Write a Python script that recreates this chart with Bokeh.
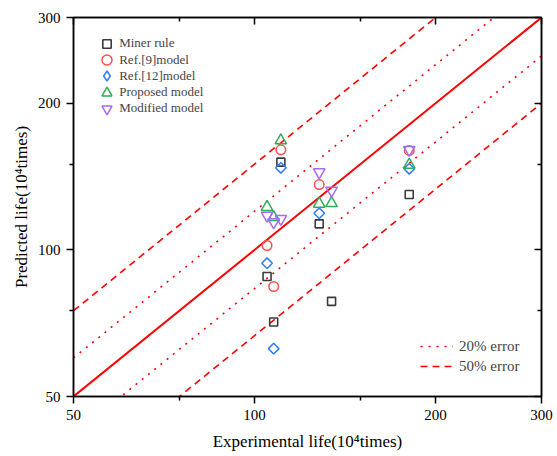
import math
from bokeh.plotting import figure
from bokeh.models import (FixedTicker, PrintfTickFormatter, LogAxis, Legend, LegendItem,
                          CustomJSTickFormatter, Range1d)
from bokeh.embed import file_html
from bokeh.resources import INLINE

NAN = float("nan")
# Experimental life (10^4 times)
exp_life = [104.9, 107.6, 110.6, 128.1, 134.3, 180.8]
# Predicted life per model
miner_rule = [88.2, 71.1, 151.4, 113.1, 78.4, 129.9]
ref9_model = [102.1, 84.1, 160.5, 136.2, NAN, 160.0]
ref12_model = [93.9, 62.7, 147.4, 118.9, NAN, 146.7]
proposed_model = [122.4, 116.7, 167.7, 124.3, 124.7, 149.5]
modified_model = [117.6, 114.0, 115.8, 144.4, 132.4, 160.5]

ref_x = [50, 300]
err_factors = {"solid": 1.0, "20": 1.2, "50": 1.5}

major_ticks = [50, 100, 200, 300]
minor_ticks = [75, 150]

FONT = "Liberation Serif"

p = figure(width=557, height=456, x_axis_type="log", y_axis_type="log",
           x_range=Range1d(50, 300), y_range=Range1d(50, 300),
           output_backend="svg", toolbar_location=None,
           min_border_left=73, min_border_right=16, min_border_top=17, min_border_bottom=60)
p.xgrid.visible = False
p.ygrid.visible = False
p.outline_line_color = "black"
p.outline_line_width = 1.5
p.background_fill_color = "white"
p.border_fill_color = "white"

for ax in (p.xaxis[0], p.yaxis[0]):
    ax.ticker = FixedTicker(ticks=major_ticks, minor_ticks=minor_ticks)
    ax.formatter = PrintfTickFormatter(format="%d")
    ax.axis_line_width = 1.5
    ax.major_tick_line_width = 1.5
    ax.minor_tick_line_width = 1.5
    ax.major_tick_out = 7
    ax.major_tick_in = 0
    ax.minor_tick_out = 4
    ax.minor_tick_in = 0
    ax.major_label_text_font = FONT
    ax.major_label_text_font_size = "15px"
    ax.major_label_text_color = "black"
    ax.axis_label_text_font = FONT
    ax.axis_label_text_font_size = "17px"
    ax.axis_label_text_font_style = "normal"
    ax.axis_label_text_color = "black"
    ax.major_label_standoff = 6

p.xaxis[0].axis_label = "Experimental life(10\u2074times)"
p.yaxis[0].axis_label = "Predicted life(10\u2074times)"
p.xaxis[0].axis_label_standoff = 9
p.yaxis[0].axis_label_standoff = 4

for side in ("above", "right"):
    ax = LogAxis(ticker=FixedTicker(ticks=major_ticks, minor_ticks=minor_ticks),
                 formatter=CustomJSTickFormatter(code="return ''"))
    ax.axis_line_width = 1.5
    ax.major_tick_line_width = 1.5
    ax.minor_tick_line_width = 1.5
    ax.major_tick_out = 0
    ax.major_tick_in = 7
    ax.minor_tick_out = 0
    ax.minor_tick_in = 4
    ax.major_label_text_font_size = "0px"
    ax.major_label_standoff = 0
    p.add_layout(ax, side)

# reference lines
RED = "#FF0000"
solid = p.line(ref_x, [v * err_factors["solid"] for v in ref_x], line_color=RED, line_width=2)
dot_hi = p.line(ref_x, [v * err_factors["20"] for v in ref_x], line_color=RED, line_width=1.6, line_dash="2 6")
dot_lo = p.line(ref_x, [v / err_factors["20"] for v in ref_x], line_color=RED, line_width=1.6, line_dash="2 6")
dash_hi = p.line(ref_x, [v * err_factors["50"] for v in ref_x], line_color=RED, line_width=1.6, line_dash="7 5")
dash_lo = p.line(ref_x, [v / err_factors["50"] for v in ref_x], line_color=RED, line_width=1.6, line_dash="7 5")

# data markers
C_MINER, C_REF9, C_REF12, C_PROP, C_MOD = "#3a3a3a", "#FF4C4C", "#2E7CF6", "#2EAD5B", "#A66CF0"
r_miner = p.scatter(exp_life, miner_rule, marker="square", size=8, fill_color=None,
                    line_color=C_MINER, line_width=1.6)
r_ref9 = p.scatter(exp_life, ref9_model, marker="circle", size=9.5, fill_color=None,
                   line_color=C_REF9, line_width=1.5)
r_ref12 = p.scatter(exp_life, ref12_model, marker="square", angle=math.pi / 4, size=7.5,
                    fill_color=None, line_color=C_REF12, line_width=1.5)
r_prop = p.scatter(exp_life, proposed_model, marker="triangle", size=11.5, fill_color=None,
                   line_color=C_PROP, line_width=1.5)
r_mod = p.scatter(exp_life, modified_model, marker="inverted_triangle", size=11.5, fill_color=None,
                  line_color=C_MOD, line_width=1.5)
# legend-only key for the diamond symbol (legend glyphs ignore marker angle); its point is NaN
r_ref12_key = p.scatter(x=[NAN], y=[NAN], marker="diamond", size=11, fill_color=None,
                        line_color=C_REF12, line_width=1.5)

series_labels = ["Miner rule", "Ref.[9]model", "Ref.[12]model", "Proposed model", "Modified model"]
series_keys = [r_miner, r_ref9, r_ref12_key, r_prop, r_mod]
key_box = [21, 25, 25, 25, 25]  # legend glyph box (key size = 0.4 * box)

# one single-item legend per row, so the keys can be large while rows stay close
ROW0, PITCH = 43.3, 16.25
GLYPH_CX, TEXT_X = 33.7, 46.3  # from frame left
FRAME_H = 379
for i, (lab, rend, gb) in enumerate(zip(series_labels, series_keys, key_box)):
    center_from_top = ROW0 - 17 + PITCH * i
    vy = FRAME_H - center_from_top - gb / 2
    vx = GLYPH_CX - gb / 2
    leg = Legend(items=[LegendItem(label=lab, renderers=[rend])], location=(vx, vy))
    leg.padding = 0
    leg.margin = 0
    leg.spacing = 0
    leg.glyph_width = gb
    leg.glyph_height = gb
    leg.label_height = 16
    leg.label_standoff = max(0, round(TEXT_X - vx - gb))
    leg.label_text_font = FONT
    leg.label_text_font_style = "normal"
    leg.label_text_font_size = "13px"
    leg.border_line_color = None
    leg.background_fill_alpha = 0
    p.add_layout(leg, "center")

leg2 = Legend(items=[
    LegendItem(label="20% error", renderers=[dot_hi]),
    LegendItem(label="50% error", renderers=[dash_hi]),
], location=(347, 20))
leg2.padding = 0
leg2.margin = 0
leg2.spacing = 0
leg2.glyph_width = 33
leg2.glyph_height = 20
leg2.label_height = 20
leg2.label_standoff = 6
leg2.label_text_font = FONT
leg2.label_text_font_style = "normal"
leg2.label_text_font_size = "15px"
leg2.border_line_color = None
leg2.background_fill_alpha = 0
p.add_layout(leg2, "center")

open("out.html", "w").write(file_html(p, INLINE))
